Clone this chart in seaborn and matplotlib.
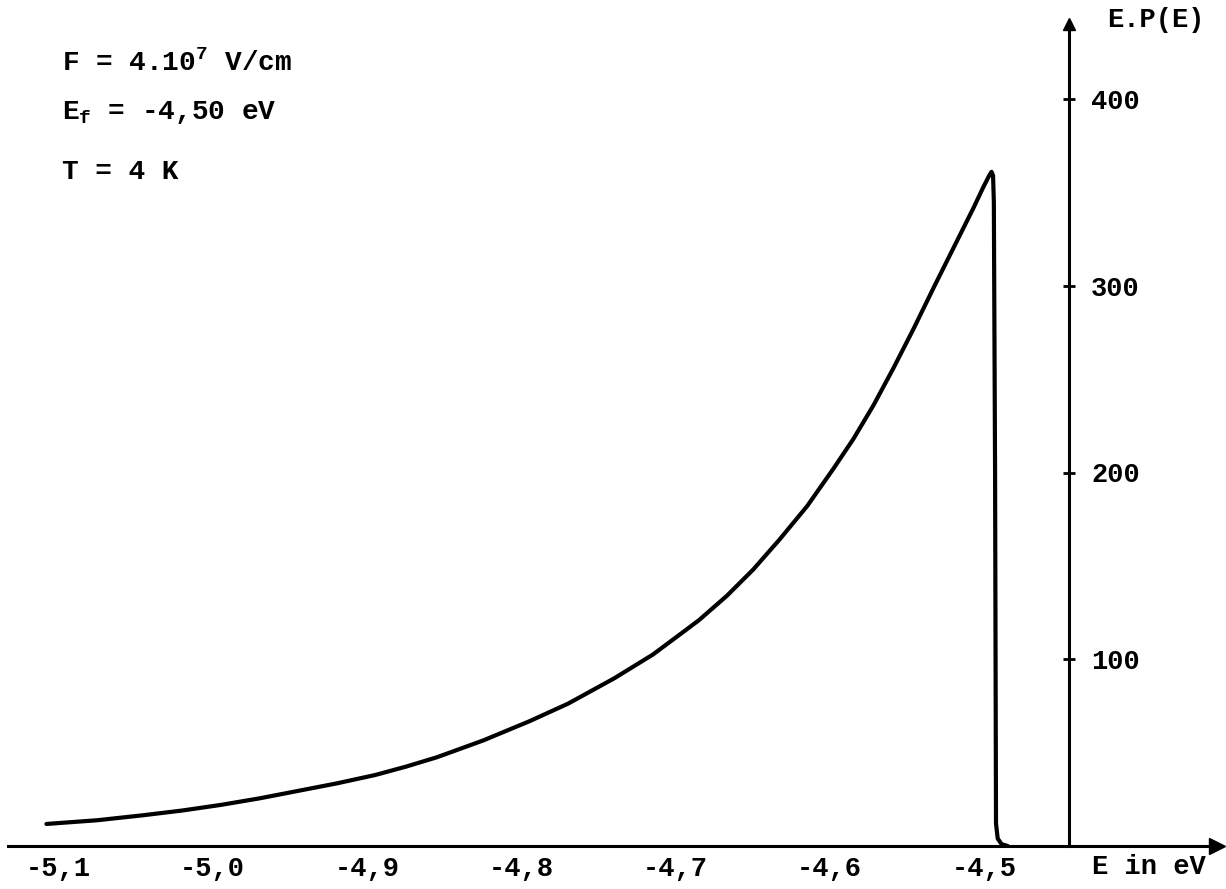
import numpy as np
import pandas as pd
import matplotlib
matplotlib.use("Agg")
import matplotlib.pyplot as plt
from matplotlib.transforms import ScaledTranslation
import seaborn as sns

# ---- data ----
energy = [-5.113, -5.08, -5.05, -5.025, -5.0, -4.975, -4.95, -4.925, -4.9,
          -4.88, -4.86, -4.83, -4.80, -4.775, -4.745, -4.72, -4.70, -4.69,
          -4.672, -4.655, -4.638, -4.62, -4.603, -4.59, -4.577, -4.564,
          -4.551, -4.538, -4.525, -4.512, -4.506, -4.502, -4.5005, -4.4995,
          -4.499, -4.4982, -4.4976, -4.4965, -4.494, -4.49]
ep_values = [11.8, 13.8, 16.5, 19, 22, 25.5, 29.5, 33.5, 38,
             42.5, 47.5, 56.5, 66.8, 76.2, 89.8, 102.5, 114.8, 121,
             134, 148, 164, 182, 202, 218, 236, 256,
             277, 299, 320.5, 342, 352.5, 359, 361, 359,
             345, 200, 12, 4, 1, 0]
xtick_values = [-5.1, -5.0, -4.9, -4.8, -4.7, -4.6, -4.5]
xtick_labels = ["-5,1", "-5,0", "-4,9", "-4,8", "-4,7", "-4,6", "-4,5"]
ytick_values = [100, 200, 300, 400]
ytick_labels = ["100", "200", "300", "400"]
annot_lines = ["F = 4.10$^{7}$ V/cm", "E$_{f}$ = -4,50 eV", "T = 4 K"]
y_axis_at = -4.45

df = pd.DataFrame({"E": energy, "EP": ep_values})

sns.set_theme(style="white")
plt.rcParams["font.family"] = ["Liberation Mono", "DejaVu Sans Mono"]
plt.rcParams["font.weight"] = "bold"
plt.rcParams["mathtext.fontset"] = "custom"
plt.rcParams["mathtext.rm"] = "Liberation Mono:bold"
plt.rcParams["mathtext.it"] = "Liberation Mono:bold"
plt.rcParams["mathtext.bf"] = "Liberation Mono:bold"

W, H = 1226, 889
fig = plt.figure(figsize=(W / 100, H / 100), dpi=100)
ax = fig.add_axes([0, 0, 1, 1])
ax.set_facecolor("white")

sns.lineplot(data=df, x="E", y="EP", ax=ax, color="black", linewidth=3.0,
             sort=False, estimator=None)
ax.lines[-1].set_solid_capstyle("round")
ax.lines[-1].set_solid_joinstyle("round")

x_left = -5.1 - 66.5 / 1543
x_right = -5.1 + (W - 66.5) / 1543
y_bot = -(H - 846) / 1.8675
y_top = 846 / 1.8675
ax.set_xlim(x_left, x_right)
ax.set_ylim(y_bot, y_top)

# axes: spines through data positions
ax.spines["top"].set_visible(False)
ax.spines["left"].set_visible(False)
ax.spines["bottom"].set_position(("data", 0))
ax.spines["bottom"].set_bounds(x_left + 0.005, x_right - 0.006)
ax.spines["right"].set_position(("data", y_axis_at))
ax.spines["right"].set_bounds(0, 440)
for s in ("bottom", "right"):
    ax.spines[s].set_color("black")
    ax.spines[s].set_linewidth(2.2)

ax.yaxis.tick_right()
ax.set_xticks(xtick_values)
ax.set_xticklabels(xtick_labels)
ax.set_yticks(ytick_values)
ax.set_yticklabels(ytick_labels)
ax.tick_params(axis="x", direction="in", length=5, width=2.2, color="black",
               labelsize=19.5, pad=7, labelcolor="black")
ax.tick_params(axis="y", direction="inout", length=9, width=2.0, color="black",
               labelsize=19.5, pad=11, labelcolor="black", left=False, right=True)
for lab in ax.get_xticklabels():
    lab.set_transform(lab.get_transform() + ScaledTranslation(-6 / 72, 0, fig.dpi_scale_trans))
    lab.set_fontweight("bold")
for lab in ax.get_yticklabels():
    lab.set_fontweight("bold")

ax.set_xlabel("")
ax.set_ylabel("")
ax.grid(False)

# arrow heads on the axes
ax.plot([x_right - 0.006], [0], marker=">", ms=11, color="black", clip_on=False)
ax.plot([y_axis_at], [440], marker="^", ms=8, color="black", clip_on=False)

# axis names
fig.text(1107 / W, 1 - 20 / H, "E.P(E)", fontsize=19.5, fontweight="bold",
         ha="left", va="center", color="black")
fig.text(1092 / W, 1 - 867 / H, "E in eV", fontsize=19.5, fontweight="bold",
         ha="left", va="center", color="black")

# parameter annotations
for txt, ypix in zip(annot_lines, [63, 112, 172]):
    fig.text(62 / W, 1 - ypix / H, txt, fontsize=20, fontweight="bold",
             ha="left", va="center", color="black")

fig.savefig("out.png", dpi=100, facecolor="white")
